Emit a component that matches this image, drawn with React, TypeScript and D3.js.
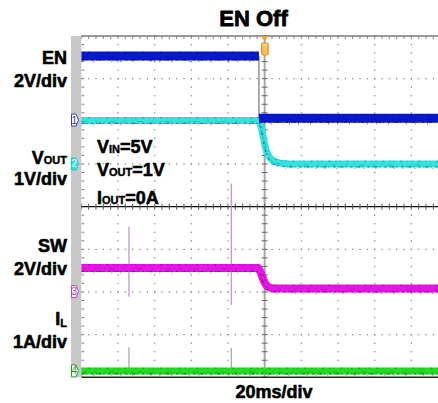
import React from 'react';
import * as d3 from 'd3';

// ---- data ----
// time axis in ms (20 ms/div, 10 divisions, trigger at 0)
const TIME_DOMAIN = [-100, 100];
const DIV_DOMAIN = [-4, 4];
const TIME_PER_DIV = 20;

// channel ground positions (divisions from centre) and scales (units/div)
const CH_NAMES = ['1', '2', '3', '4'];
const CH_POS = [2.03, 1.0, -1.99, -3.85];
const CH_SCALE = [2, 1, 2, 1];

// EN (V)
const EN_T = [-100, -3.1, -3.1, 100];
const EN_V = [3.0, 3.0, 0.08, 0.08];
// VOUT (V)
const VOUT_T = [-100, -3.1, -2.0, -0.9, 0.2, 1.3, 2.9, 5.1, 8.3, 13.8, 100];
const VOUT_V = [1.02, 1.02, 0.89, 0.66, 0.42, 0.26, 0.14, 0.06, 0.02, 0.0, 0.0];
// SW (V)
const SW_T = [-100, -3.4, -2.0, -0.9, 0.2, 1.8, 4.0, 8.3, 100];
const SW_V = [1.1, 1.1, 0.87, 0.59, 0.38, 0.22, 0.15, 0.14, 0.14];
// IL (A)
const IL_T = [-100, 100];
const IL_V = [0, 0];
// glitches: [time ms, low, high]
const SW_SPIKE_T = [-74, -18.2];
const SW_SPIKE_LO = [-0.24, -0.62];
const SW_SPIKE_HI = [3.04, 5.07];
const IL_SPIKE_T = [-74, -18.2];
const IL_SPIKE_HI = [0.56, 0.54];

const TITLE = 'EN Off';
const X_LABEL = '20ms/div';

const W = 438;
const H = 403;
const PLOT_L = 81.3;
const PLOT_R = 448;
const PLOT_T = 36;
const PLOT_B = 377.3;
const FONT = "Liberation Sans, Arial, sans-serif";

const x = d3.scaleLinear().domain(TIME_DOMAIN).range([PLOT_L, PLOT_R]);
const y = d3.scaleLinear().domain(DIV_DOMAIN).range([PLOT_B, PLOT_T]);

const toDiv = (ch: number, v: number) => CH_POS[ch] + v / CH_SCALE[ch];

type Pt = [number, number];

function tracePts(ch: number, ts: number[], vs: number[]): Pt[] {
  return ts.map((t, i) => [x(t), y(toDiv(ch, vs[i]))] as Pt);
}

// split at vertical jumps
function splitPts(p: Pt[]): Pt[][] {
  const out: Pt[][] = [];
  let cur: Pt[] = [p[0]];
  for (let i = 1; i < p.length; i++) {
    if (Math.abs(p[i][0] - p[i - 1][0]) < 0.01) {
      out.push(cur);
      cur = [p[i]];
    } else cur.push(p[i]);
  }
  out.push(cur);
  return out;
}

const line = d3.line<Pt>().x(d => d[0]).y(d => d[1]);

const Trace = ({ pts, color, noise, width }: { pts: Pt[]; color: string; noise: string; width: number }) => {
  const segs = splitPts(pts);
  return (
    <g>
      <path d={line(pts) || ''} fill="none" stroke={noise} strokeWidth={1} opacity={0.7} />
      {segs.map((s, i) => (
        <g key={i}>
          <path d={line(s) || ''} fill="none" stroke={color} strokeWidth={width} strokeLinejoin="round" />
          <path d={line(s) || ''} fill="none" stroke={noise} strokeWidth={1.2}
            strokeDasharray="3 2 1 4 2 3 1 1" transform={`translate(0,${width / 2 - 0.6})`} opacity={0.9} />
          <path d={line(s) || ''} fill="none" stroke={noise} strokeWidth={1}
            strokeDasharray="1 6 2 5 1 3" transform={`translate(0,${-width / 2 + 0.8})`} opacity={0.7} />
          <path d={line(s) || ''} fill="none" stroke={noise} strokeWidth={0.8}
            strokeDasharray="5 9 2 7 1 4" transform={`translate(0,1)`} opacity={0.45} />
          <path d={line(s) || ''} fill="none" stroke={noise} strokeWidth={1}
            strokeDasharray="1 11 1 17 1 8" transform={`translate(0,${width / 2 + 1})`} opacity={0.7} />
        </g>
      ))}
    </g>
  );
};

const Marker = ({ yPos, label, stroke, fill, textColor }: { yPos: number; label: string; stroke: string; fill: string; textColor: string }) => {
  const x0 = 71.5, x1 = 76, x2 = 78.5, h = 6;
  const d = `M${x0},${yPos - h} L${x1},${yPos - h} L${x2},${yPos} L${x1},${yPos + h} L${x0},${yPos + h} Z`;
  return (
    <g>
      <path d={d} fill={fill} stroke={stroke} strokeWidth={1} />
      <text x={74.3} y={yPos + 3.5} fontSize={10} fontFamily={FONT} textAnchor="middle" fill={textColor}>{label}</text>
    </g>
  );
};

export default function App() {
  const xMinor = d3.range(TIME_DOMAIN[0], TIME_DOMAIN[1] + 0.001, TIME_PER_DIV / 5);
  const yMinor = d3.range(DIV_DOMAIN[0], DIV_DOMAIN[1] + 0.001, 0.2);
  const xMajor = d3.range(TIME_DOMAIN[0] + TIME_PER_DIV, TIME_DOMAIN[1], TIME_PER_DIV).filter(t => Math.abs(t) > 1e-6);
  const yMajor = d3.range(DIV_DOMAIN[0] + 1, DIV_DOMAIN[1], 1).filter(v => Math.abs(v) > 1e-6);

  const enPts = tracePts(0, EN_T, EN_V);
  const voutPts = tracePts(1, VOUT_T, VOUT_V);
  const swPts = tracePts(2, SW_T, SW_V);
  const ilPts = tracePts(3, IL_T, IL_V);

  const markerStyles = [
    { stroke: '#3838c8', fill: '#ffffff', text: '#3030c0' },
    { stroke: '#20c8d0', fill: '#30e0e8', text: '#ffffff' },
    { stroke: '#c040c0', fill: '#ffffff', text: '#c030c0' },
    { stroke: '#20a020', fill: '#ffffff', text: '#20a020' },
  ];

  const bold = { fontFamily: FONT, fontWeight: 700 } as React.CSSProperties;

  return (
    <svg width={W} height={H} style={{ position: 'absolute', left: 0, top: 0, background: '#fff' }}>
      <defs>
        <clipPath id="plot">
          <rect x={PLOT_L} y={PLOT_T - 1} width={W - PLOT_L} height={PLOT_B - PLOT_T + 2} />
        </clipPath>
      </defs>
      <rect x={0} y={0} width={W} height={H} fill="#fff" />

      {/* title */}
      <text x={253.5} y={26} fontSize={22} style={bold} textAnchor="middle" fill="#000"
        stroke="#000" strokeWidth={0.8} strokeLinejoin="round">{TITLE}</text>

      {/* left gray strip */}
      <rect x={71} y={PLOT_T} width={PLOT_L - 71} height={PLOT_B - PLOT_T} fill="#c8c8c8" />

      <g clipPath="url(#plot)">
        {/* dotted vertical grid */}
        {xMajor.map(t => (
          <g key={'vx' + t}>
            {yMinor.map(v => (
              <rect key={v} x={x(t) - 0.6} y={y(v) - 0.6} width={1.3} height={1.3} fill="#8a8a8a" />
            ))}
          </g>
        ))}
        {/* dotted horizontal grid */}
        {yMajor.map(v => (
          <g key={'hy' + v}>
            {xMinor.map(t => (
              <rect key={t} x={x(t) - 0.6} y={y(v) - 0.6} width={1.3} height={1.3} fill="#8a8a8a" />
            ))}
          </g>
        ))}
        {/* top border with ticks */}
        <line x1={PLOT_L} x2={W} y1={PLOT_T} y2={PLOT_T} stroke="#7a7a7a" strokeWidth={1.5} />
        {xMinor.map(t => (
          <line key={'tt' + t} x1={x(t)} x2={x(t)} y1={PLOT_T} y2={PLOT_T + 3} stroke="#808080" strokeWidth={1} />
        ))}
        {/* left edge ticks */}
        {yMinor.map(v => (
          <line key={'lt' + v} x1={PLOT_L} x2={PLOT_L + 3} y1={y(v)} y2={y(v)} stroke="#808080" strokeWidth={1} />
        ))}
        {/* centre vertical */}
        <line x1={x(0)} x2={x(0)} y1={PLOT_T} y2={PLOT_B} stroke="#a8a8a8" strokeWidth={2} />
        {yMinor.map(v => (
          <line key={'cv' + v} x1={x(0) - 3} x2={x(0) + 3} y1={y(v)} y2={y(v)} stroke="#666" strokeWidth={1} />
        ))}
        {/* centre horizontal */}
        <line x1={PLOT_L} x2={W} y1={y(0)} y2={y(0)} stroke="#111" strokeWidth={1.2} />
        {xMinor.map(t => (
          <line key={'ch' + t} x1={x(t)} x2={x(t)} y1={y(0) - 3} y2={y(0) + 3} stroke="#555" strokeWidth={1} />
        ))}
        {/* bottom border */}
        <line x1={PLOT_L} x2={W} y1={PLOT_B} y2={PLOT_B} stroke="#222" strokeWidth={1.5} />

        {/* spikes */}
        {SW_SPIKE_T.map((t, i) => (
          <line key={'sws' + i} x1={x(t)} x2={x(t)} y1={y(toDiv(2, SW_SPIKE_HI[i]))} y2={y(toDiv(2, SW_SPIKE_LO[i]))}
            stroke="#b890c0" strokeWidth={1.2} />
        ))}
        {IL_SPIKE_T.map((t, i) => (
          <line key={'ils' + i} x1={x(t)} x2={x(t)} y1={y(toDiv(3, IL_SPIKE_HI[i]))} y2={y(toDiv(3, 0))}
            stroke="#90b090" strokeWidth={1.2} />
        ))}

        {/* traces */}
        <Trace pts={ilPts} color="#22dc22" noise="#0a780a" width={7} />
        <Trace pts={swPts} color="#e614e6" noise="#781070" width={8} />
        <Trace pts={voutPts} color="#34e2e2" noise="#107a7a" width={7} />
        <Trace pts={enPts} color="#0818cc" noise="#000a6a" width={9} />
      </g>

      {/* trigger marker */}
      <path d={`M${x(0) - 3.5},${PLOT_T} L${x(0) + 3.5},${PLOT_T} L${x(0)},${PLOT_T + 5} Z`} fill="#f0a020" />
      <rect x={x(0) - 3} y={43} width={6.5} height={12} rx={1.5} fill="#f8c060" stroke="#f09010" strokeWidth={1.2} />
      <line x1={x(0) - 1.5} x2={x(0) + 2} y1={45} y2={45} stroke="#ffffff" strokeWidth={1} />

      {/* channel markers */}
      {CH_POS.map((p, i) => (
        <Marker key={i} yPos={y(p)} label={CH_NAMES[i]} stroke={markerStyles[i].stroke}
          fill={markerStyles[i].fill} textColor={markerStyles[i].text} />
      ))}

      {/* labels */}
      <g style={bold} fontSize={18} fill="#000" stroke="#000" strokeWidth={0.6} strokeLinejoin="round">
        <text x={67} y={64} textAnchor="end">EN</text>
        <text x={67} y={87} textAnchor="end">2V/div</text>
        <text x={67} y={164} textAnchor="end">V<tspan fontSize={11} strokeWidth={0.4}>OUT</tspan></text>
        <text x={67} y={185} textAnchor="end">1V/div</text>
        <text x={67} y={251.5} textAnchor="end">SW</text>
        <text x={67} y={274.5} textAnchor="end">2V/div</text>
        <text x={67} y={325} textAnchor="end">I<tspan fontSize={11} dy={2} strokeWidth={0.4}>L</tspan></text>
        <text x={67} y={348} textAnchor="end">1A/div</text>

        <text x={97} y={153}>V<tspan fontSize={11} strokeWidth={0.4}>IN</tspan>=5V</text>
        <text x={97} y={176}>V<tspan fontSize={11} strokeWidth={0.4}>OUT</tspan>=1V</text>
        <text x={97} y={204}>I<tspan fontSize={11} strokeWidth={0.4}>OUT</tspan>=0A</text>

        <text x={274} y={398} textAnchor="middle">{X_LABEL}</text>
      </g>
    </svg>
  );
}
